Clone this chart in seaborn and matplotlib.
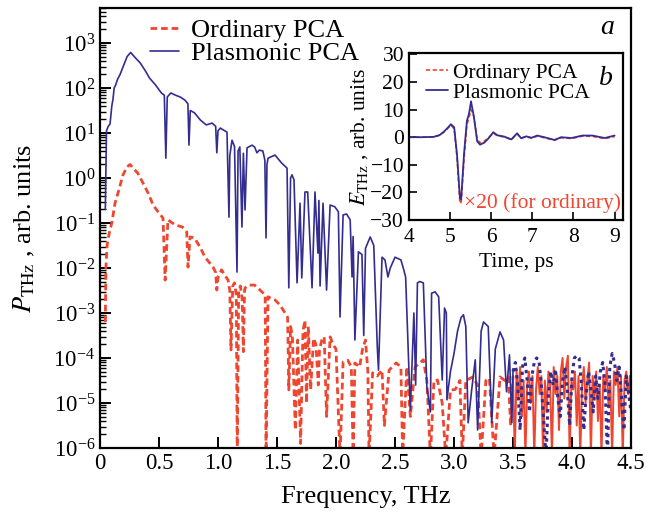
# THz power spectra (log) with time-domain inset
import numpy as np
import pandas as pd
import matplotlib
matplotlib.use("Agg")
import matplotlib.pyplot as plt
import seaborn as sns

sns.set_style("ticks")
plt.rcParams["font.family"] = ["Liberation Serif", "DejaVu Serif"]
plt.rcParams["mathtext.fontset"] = "stix"
plt.rcParams["axes.edgecolor"] = "black"
plt.rcParams["xtick.color"] = "black"
plt.rcParams["ytick.color"] = "black"
plt.rcParams["text.color"] = "black"
plt.rcParams["axes.labelcolor"] = "black"

RED = "#ef4630"
BLUE = "#332d90"

# ---- spectrum, plasmonic PCA (frequency THz, log10 of power)
plasmonic_freq = [0.045, 0.055, 0.07, 0.085, 0.10, 0.11, 0.12, 0.13, 0.15, 0.17, 0.20, 0.23, 0.26,
                  0.30, 0.34, 0.38, 0.42, 0.47, 0.52, 0.545, 0.558, 0.57, 0.60, 0.64, 0.68, 0.72,
                  0.745, 0.754, 0.765, 0.80, 0.85, 0.90, 0.95, 0.98, 0.99, 1.00, 1.02, 1.05,
                  1.076, 1.093, 1.10, 1.119, 1.14, 1.161, 1.17, 1.185, 1.203, 1.215, 1.229, 1.246,
                  1.288, 1.31, 1.33, 1.35, 1.38, 1.397, 1.407, 1.415, 1.424, 1.483, 1.54, 1.585,
                  1.60, 1.615, 1.627, 1.644, 1.67, 1.695, 1.71, 1.737, 1.76, 1.797, 1.822, 1.847,
                  1.855, 1.865, 1.89, 1.92, 1.95, 1.99, 2.02, 2.034, 2.06, 2.09, 2.12, 2.136,
                  2.145, 2.16, 2.19, 2.22, 2.235, 2.25, 2.29, 2.32, 2.35, 2.36, 2.39, 2.415,
                  2.44, 2.46, 2.50, 2.55, 2.57, 2.59, 2.63, 2.66, 2.675, 2.69, 2.71, 2.74,
                  2.77, 2.80, 2.81, 2.84, 2.87, 2.90, 2.92, 2.935, 2.94, 2.97, 3.00, 3.03,
                  3.06, 3.08, 3.10, 3.12, 3.15, 3.18, 3.20, 3.23, 3.25, 3.29, 3.32, 3.35,
                  3.39, 3.42, 3.445, 3.47, 3.49, 3.50]
plasmonic_log = [-0.7, 1.05, 1.15, 1.2, 1.6, 1.75, 2.0, 2.05, 2.2, 2.3, 2.5, 2.7, 2.79,
                 2.67, 2.56, 2.4, 2.22, 2.07, 1.89, 1.84, 0.44, 1.8, 1.89, 1.84, 1.8, 1.73,
                 1.65, 0.73, 1.5, 1.45, 1.29, 1.18, 1.22, 1.15, 0.56, 1.05, 1.11, 1.06,
                 1.02, -0.87, 0.5, 0.84, 0.7, -2.09, 0.6, 0.69, -1.09, 0.55, -0.71, 0.67,
                 0.73, 0.69, 0.56, 0.62, 0.6, 0.4, -1.33, 0.3, 0.44, 0.51, 0.33, 0.22,
                 -2.44, 0.0, 0.07, -0.04, -2.33, -0.56, -2.22, -0.31, -0.31, -2.44, -0.31, -1.67,
                 -0.5, -2.4, -0.56, -2.49, -0.6, -0.64, -0.75, -3.09, -0.82, -0.8, -0.93, -2.2,
                 -1.3, -3.6, -1.64, -1.7, -3.5, -1.56, -1.31, -1.5, -3.76, -4.27, -1.76, -1.82,
                 -2.2, -2.0, -1.76, -1.82, -2.0, -2.2, -5.16, -3.0, -4.6, -2.33, -2.3, -2.33,
                 -4.64, -5.2, -2.56, -2.53, -2.64, -4.49, -2.89, -3.0, -4.93, -4.3, -3.9, -3.4,
                 -3.1, -3.04, -3.3, -5.44, -4.7, -4.04, -5.6, -3.4, -3.2, -3.3, -5.44, -3.8,
                 -3.42, -3.6, -4.75, -3.93, -5.44, -4.3]

# noise floor above 3.5 THz, plasmonic
plasmonic_noise_freq = [3.50, 3.52, 3.54, 3.56, 3.58, 3.60, 3.62, 3.64, 3.66, 3.68, 3.70, 3.72,
                        3.74, 3.76, 3.78, 3.80, 3.82, 3.84, 3.86, 3.88, 3.90, 3.92, 3.94, 3.96,
                        3.98, 4.00, 4.02, 4.04, 4.06, 4.08, 4.10, 4.12, 4.14, 4.16, 4.18, 4.20,
                        4.22, 4.24, 4.26, 4.28, 4.30, 4.32, 4.34, 4.36, 4.38, 4.40, 4.42, 4.44,
                        4.46, 4.48, 4.50]
plasmonic_noise_log = [-4.3, -4.1, -4.6, -5.6, -4.2, -4.0, -4.5, -5.2, -4.4, -4.1, -4.0, -4.05,
                       -4.6, -5.4, -6.2, -4.8, -4.3, -4.6, -4.25, -4.9, -5.3, -4.5, -4.2, -4.7,
                       -5.5, -4.4, -4.0, -3.95, -4.0, -4.6, -5.6, -4.8, -4.3, -4.7, -5.2, -4.4,
                       -4.9, -4.3, -4.1, -4.6, -6.2, -4.2, -3.9, -4.1, -4.5, -4.2, -4.9, -5.6,
                       -4.4, -4.8, -5.2]

# ---- spectrum, ordinary PCA
ordinary_freq = [0.045, 0.05, 0.06, 0.07, 0.085, 0.10, 0.127, 0.153, 0.195, 0.23, 0.255, 0.28,
                 0.32, 0.364, 0.407, 0.45, 0.50, 0.534, 0.552, 0.576, 0.636, 0.70, 0.735, 0.746,
                 0.763, 0.80, 0.847, 0.89, 0.958, 0.98, 0.99, 1.00, 1.03, 1.085, 1.10, 1.11,
                 1.125, 1.14, 1.155, 1.163, 1.175, 1.19, 1.205, 1.215, 1.225, 1.23, 1.26, 1.31,
                 1.356, 1.40, 1.407, 1.424, 1.483, 1.525, 1.568, 1.59, 1.60, 1.615, 1.63, 1.655,
                 1.675, 1.70, 1.72, 1.737, 1.75, 1.765, 1.785, 1.81, 1.83, 1.85, 1.86, 1.88,
                 1.90, 1.92, 1.95, 1.975, 2.00, 2.034, 2.06, 2.10, 2.13, 2.145, 2.16, 2.20,
                 2.225, 2.25, 2.27, 2.28, 2.31, 2.35, 2.39, 2.41, 2.45, 2.51, 2.55, 2.565,
                 2.60, 2.63, 2.67, 2.74, 2.77, 2.80, 2.83, 2.86, 2.90, 2.93, 2.97, 3.01,
                 3.05, 3.07, 3.10, 3.16, 3.20, 3.23, 3.27, 3.30, 3.34, 3.39, 3.43, 3.46,
                 3.48, 3.50]
ordinary_log = [-3.2, -2.0, -1.5, -1.33, -1.15, -1.0, -0.56, -0.33, 0.07, 0.25, 0.3, 0.22,
                0.11, -0.11, -0.33, -0.6, -0.78, -0.89, -2.27, -0.93, -1.04, -1.09, -1.2, -1.98,
                -1.31, -1.33, -1.53, -1.76, -1.98, -2.1, -2.49, -2.2, -2.04, -2.27, -2.5, -3.82,
                -2.4, -2.33, -2.6, -6.2, -2.5, -2.4, -2.7, -3.86, -2.5, -2.44, -2.38, -2.38,
                -2.49, -2.6, -6.2, -2.64, -2.71, -2.82, -3.0, -3.1, -4.71, -3.3, -3.5, -5.6,
                -3.6, -5.9, -3.4, -3.16, -5.0, -3.3, -4.7, -3.56, -3.7, -4.6, -3.82, -3.6,
                -3.53, -5.3, -3.53, -3.7, -3.8, -6.2, -4.09, -4.05, -4.2, -6.2, -4.11, -4.2,
                -3.8, -3.6, -4.3, -6.2, -4.33, -4.4, -4.27, -5.5, -4.27, -4.11, -4.2, -6.2,
                -4.2, -5.3, -4.2, -4.04, -4.5, -6.2, -4.5, -4.49, -5.0, -6.2, -4.71, -4.7,
                -4.5, -6.2, -4.5, -4.42, -4.6, -6.2, -4.5, -4.45, -6.2, -4.42, -4.5, -4.42,
                -5.5, -4.4]

ordinary_noise_freq = [3.50, 3.515, 3.53, 3.545, 3.56, 3.575, 3.59, 3.605, 3.62, 3.635, 3.65,
                       3.665, 3.68, 3.695, 3.71, 3.725, 3.74, 3.755, 3.77, 3.785, 3.80, 3.815,
                       3.83, 3.845, 3.86, 3.875, 3.89, 3.905, 3.92, 3.935, 3.95, 3.965, 3.98,
                       3.995, 4.01, 4.025, 4.04, 4.055, 4.07, 4.085, 4.10, 4.115, 4.13, 4.145,
                       4.16, 4.175, 4.19, 4.205, 4.22, 4.235, 4.25, 4.265, 4.28, 4.295, 4.31,
                       4.325, 4.34, 4.355, 4.37, 4.385, 4.40, 4.415, 4.43, 4.445, 4.46, 4.475,
                       4.49, 4.50]
ordinary_noise_log = [-4.4, -6.2, -4.3, -4.9, -4.2, -5.3, -4.5, -6.2, -4.6, -4.3, -5.0,
                      -4.4, -6.2, -4.7, -4.2, -4.8, -4.4, -6.2, -4.5, -5.2, -4.3, -4.6,
                      -6.2, -4.2, -4.8, -4.4, -5.6, -4.3, -4.0, -4.9, -4.2, -3.95, -6.2,
                      -4.5, -4.7, -4.3, -5.5, -4.4, -6.2, -4.6, -4.2, -5.0, -4.5, -4.1,
                      -6.2, -4.4, -4.9, -4.3, -5.4, -4.6, -6.2, -4.4, -4.7, -4.2, -5.1,
                      -4.5, -6.2, -4.3, -4.6, -4.2, -5.3, -4.4, -6.2, -4.5, -4.3, -4.8,
                      -4.4, -5.0]

# ---- time-domain waveforms (inset)
time_ps = [4.0, 4.3, 4.6, 4.75, 4.85, 4.95, 5.02, 5.1, 5.17, 5.24, 5.27, 5.34, 5.41, 5.46,
           5.51, 5.58, 5.66, 5.73, 5.83, 5.93, 6.05, 6.15, 6.32, 6.49, 6.63, 6.73, 6.85,
           6.98, 7.12, 7.29, 7.54, 7.7, 7.95, 8.22, 8.46, 8.76, 9.0]
field_plasmonic = [0, 0, 0.1, 0.8, 2.0, 3.5, 4.7, 3.6, -6.4, -22, -22.5, -6, 6, 8.4,
                   13, 7.3, -1.5, -2.7, -2, -0.5, 1.8, 0.7, 0.2, -0.8, 1.4, -0.4, 0.3,
                   -0.2, 0.6, 0, -1, 0, -0.3, 0.6, 0.6, -0.3, 0.6]
field_ordinary = [0, 0, 0.1, 0.7, 1.8, 3.3, 4.4, 3.0, -7.5, -24, -23.5, -8, 4.5, 7,
                  10, 7.5, -0.8, -2.0, -1.5, -0.3, 1.5, 0.5, 0.1, -0.9, 1.2, -0.3, 0.2,
                  -0.4, 0.4, -0.2, -1.1, -0.2, -0.5, 0.4, 0.3, -0.5, 0.2]

freq_ticks = [0, 0.5, 1.0, 1.5, 2.0, 2.5, 3.0, 3.5, 4.0, 4.5]
freq_tick_labels = ["0", "0.5", "1.0", "1.5", "2.0", "2.5", "3.0", "3.5", "4.0", "4.5"]
power_ticks = [1e-6, 1e-5, 1e-4, 1e-3, 1e-2, 1e-1, 1e0, 1e1, 1e2, 1e3]


def spec(freq, logp):
    return pd.DataFrame({"f": freq, "p": np.power(10.0, np.array(logp))})


fig = plt.figure(figsize=(6.46, 5.16), dpi=100)
ax = fig.add_axes([0.1548, 0.1318, 0.822, 0.8527])

dash = (0, (2.4, 1.4))
sns.lineplot(data=spec(ordinary_noise_freq, ordinary_noise_log), x="f", y="p", ax=ax,
             color=RED, lw=1.4, sort=False)
sns.lineplot(data=spec(plasmonic_noise_freq, plasmonic_noise_log), x="f", y="p", ax=ax,
             color=BLUE, lw=2.2, linestyle=(0, (1.1, 1.3)), sort=False)
sns.lineplot(data=spec(ordinary_freq, ordinary_log), x="f", y="p", ax=ax,
             color=RED, lw=2.0, linestyle=dash, sort=False)
sns.lineplot(data=spec(plasmonic_freq, plasmonic_log), x="f", y="p", ax=ax,
             color=BLUE, lw=1.2, sort=False)

ax.set_yscale("log")
ax.set_xlim(0, 4.5)
ax.set_ylim(1e-6, 6e3)
ax.set_xticks(freq_ticks)
ax.set_xticklabels(freq_tick_labels)
ax.set_yticks(power_ticks)
ax.tick_params(axis="both", which="major", direction="in", labelsize=16.5,
               width=1.4, length=8, top=False, right=False)
ax.tick_params(axis="y", which="minor", direction="in", width=1.0, length=4.5)
ax.tick_params(axis="x", which="minor", bottom=False)
for s in ax.spines.values():
    s.set_linewidth(1.6)
ax.set_xlabel("Frequency, THz", fontsize=19, labelpad=9)
ax.set_ylabel(r"$P_{\rm THz}$ , arb. units", fontsize=19, labelpad=12)

h_ord, = ax.plot([], [], color=RED, lw=2.0, linestyle=dash)
h_pl, = ax.plot([], [], color=BLUE, lw=1.2)
ax.legend([h_ord, h_pl], ["Ordinary PCA", "Plasmonic PCA"], loc="upper left",
          bbox_to_anchor=(0.075, 1.0), frameon=False, fontsize=19,
          handlelength=1.1, handletextpad=0.45, labelspacing=0.0, borderaxespad=0)
ax.text(0.955, 0.955, "a", transform=ax.transAxes, fontsize=20, style="italic",
        ha="center", va="center")

# ---- inset
ins = fig.add_axes([0.633, 0.5736, 0.3311, 0.3237])
tdf = pd.DataFrame({"t": time_ps, "ord": field_ordinary, "pl": field_plasmonic})
sns.lineplot(data=tdf, x="t", y="ord", ax=ins, color=RED, lw=1.2,
             linestyle=(0, (2.5, 1.5)), sort=False)
sns.lineplot(data=tdf, x="t", y="pl", ax=ins, color=BLUE, lw=1.3, sort=False)
ins.set_xlim(4, 9.2)
ins.set_ylim(-30, 30.5)
ins.set_xticks([4, 5, 6, 7, 8, 9])
ins.set_yticks([-30, -20, -10, 0, 10, 20, 30])
ins.tick_params(axis="x", pad=6)
ins.tick_params(axis="both", direction="in", labelsize=15.5, width=1.2, length=6,
                top=False, right=False)
for s in ins.spines.values():
    s.set_linewidth(1.6)
ins.set_xlabel("Time, ps", fontsize=15.5, labelpad=4)
ins.set_ylabel(r"$E_{\rm THz}$ , arb. units", fontsize=15.5, labelpad=0)
hi_ord, = ins.plot([], [], color=RED, lw=1.2, linestyle=(0, (2.5, 1.5)))
hi_pl, = ins.plot([], [], color=BLUE, lw=1.3)
ins.legend([hi_ord, hi_pl], ["Ordinary PCA", "Plasmonic PCA"], loc="upper left",
           bbox_to_anchor=(0.02, 1.02), frameon=False, fontsize=15.5,
           handlelength=1.0, handletextpad=0.25, labelspacing=0.0, borderaxespad=0.2)
ins.text(0.92, 0.85, "b", transform=ins.transAxes, fontsize=20, style="italic",
         ha="center", va="center")
ins.text(0.99, 0.1, "×20 (for ordinary)", transform=ins.transAxes, fontsize=15.5,
         color=RED, ha="right", va="center")

fig.savefig("out.png", dpi=100)
